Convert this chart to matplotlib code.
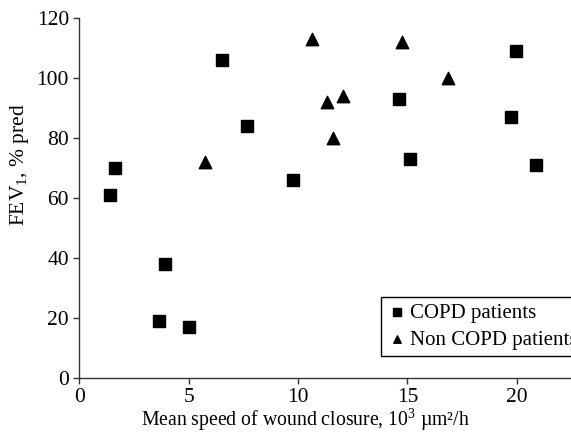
import matplotlib
matplotlib.use("Agg")
import matplotlib.pyplot as plt

plt.rcParams['font.family'] = ['Liberation Serif', 'DejaVu Serif']
plt.rcParams['mathtext.fontset'] = 'custom'
plt.rcParams['mathtext.rm'] = 'Liberation Serif'
plt.rcParams['mathtext.it'] = 'Liberation Serif:italic'

copd_x = [1.39, 1.65, 3.90, 3.63, 5.02, 6.54, 7.68, 9.79, 14.63, 15.11, 19.75, 19.98, 20.90]
copd_y = [61, 70, 38, 19, 17, 106, 84, 66, 93, 73, 87, 109, 71]
non_x = [5.73, 10.65, 11.31, 11.61, 12.07, 14.76, 16.86]
non_y = [72, 113, 92, 80, 94, 112, 100]

xticks = [0, 5, 10, 15, 20]
yticks = [0, 20, 40, 60, 80, 100, 120]

fig = plt.figure(figsize=(5.71, 4.37), dpi=100)
ax = fig.add_axes([0.139, 0.1357, 0.861, 0.8223])
ax.scatter(copd_x, copd_y, marker='s', s=85, color='black', label='COPD patients', zorder=3)
ax.scatter(non_x, non_y, marker='^', s=80, color='black', label='Non COPD patients', zorder=3)

ax.set_xlim(0, 22.48)
ax.set_ylim(0, 120)
ax.set_xticks(xticks)
ax.set_yticks(yticks)
ax.spines['top'].set_visible(False)
ax.spines['right'].set_visible(False)
for s in ['left', 'bottom']:
    ax.spines[s].set_linewidth(1.0)
    ax.spines[s].set_color('#333333')
ax.tick_params(direction='out', length=4, width=1, labelsize=15.5, colors='#333333', labelcolor='black')
ax.tick_params(axis='x', pad=3.5)
ax.tick_params(axis='y', pad=3.5)
ax.set_xlabel(r'Mean speed of wound closure, 10$^3$ µm²/h', fontsize=14.2, va='baseline')
ax.xaxis.set_label_coords(0.459, -0.134)
ax.set_ylabel(r'FEV$_1$, % pred', fontsize=15.5, va='center')
ax.yaxis.set_label_coords(-0.121, 0.592)

leg = ax.legend(loc='upper left', bbox_to_anchor=(0.614, 0.225), borderaxespad=0,
                fancybox=False, edgecolor='black', fontsize=15, markerscale=0.6,
                handletextpad=0.2, handlelength=0.9, borderpad=0.3, labelspacing=0.35,
                framealpha=1)
leg.get_frame().set_linewidth(1.0)

fig.savefig('out.png', dpi=100)
